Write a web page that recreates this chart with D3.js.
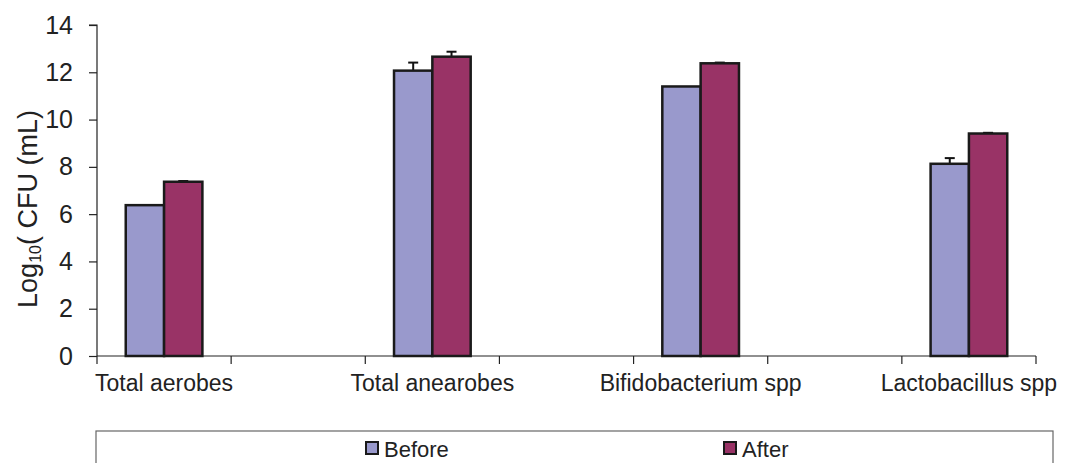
<!DOCTYPE html>
<html>
<head>
<meta charset="utf-8">
<script src="https://cdn.jsdelivr.net/npm/d3@7"></script>
<style>
  html, body { margin: 0; padding: 0; background: #fff; }
  svg { display: block; font-family: "Liberation Sans", Arial, sans-serif; }
</style>
</head>
<body>
<svg id="chart" width="1070" height="463"></svg>
<script>
// ---- data ----
const slots = ["Total aerobes", "", "Total anearobes", "", "Bifidobacterium spp", "", "Lactobacillus spp"];
const seriesNames = ["Before", "After"];
const beforeValues = [6.38, null, 12.07, null, 11.40, null, 8.13];
const afterValues  = [7.37, null, 12.66, null, 12.38, null, 9.41];
const beforeErrors = [0.0, null, 0.34, null, 0.0, null, 0.24];
const afterErrors  = [0.03, null, 0.21, null, 0.03, null, 0.03];
const yTicks = [0, 2, 4, 6, 8, 10, 12, 14];
const colors = ["#9999cc", "#993366"];

// ---- layout ----
const svg = d3.select("#chart");
const pLeft = 97, pRight = 1036, pTop = 25, pBottom = 356;

const x = d3.scaleBand().domain(d3.range(slots.length)).range([pLeft, pRight]).paddingInner(0).paddingOuter(0);
const inner = d3.scaleBand().domain([0, 1]).range([0, x.bandwidth()]).paddingOuter(0.75).paddingInner(0);
const y = d3.scaleLinear().domain([0, 14]).range([pBottom, pTop]);

// y axis
const yAxis = svg.append("g").attr("transform", `translate(${pLeft},0)`)
  .call(d3.axisLeft(y).tickValues(yTicks).tickSize(8).tickPadding(16).tickFormat(d3.format("d")));
yAxis.select(".domain").attr("stroke", "#222").attr("stroke-width", 1.2).attr("d", `M-8,${pTop}H0V${pBottom}`);
yAxis.selectAll(".tick line").attr("stroke", "#222").attr("stroke-width", 1.2);
yAxis.selectAll(".tick text").attr("font-size", 25).attr("fill", "#222").attr("font-family", "Liberation Sans, Arial, sans-serif");

// x axis (ticks at slot boundaries)
const xAxisG = svg.append("g");
xAxisG.append("line").attr("x1", pLeft).attr("x2", pRight).attr("y1", pBottom).attr("y2", pBottom)
  .attr("stroke", "#222").attr("stroke-width", 1.2);
const boundaries = d3.range(slots.length + 1).map(i => i < slots.length ? x(i) : x(slots.length - 1) + x.bandwidth());
xAxisG.selectAll("line.tk").data(boundaries).join("line").attr("class", "tk")
  .attr("x1", d => d).attr("x2", d => d).attr("y1", pBottom).attr("y2", pBottom + 8)
  .attr("stroke", "#222").attr("stroke-width", 1.2);
xAxisG.selectAll("text").data(slots.map((s, i) => ({ s, i })).filter(d => d.s))
  .join("text")
  .attr("x", d => x(d.i) + x.bandwidth() / 2)
  .attr("y", pBottom + 35)
  .attr("text-anchor", "middle").attr("font-size", 23).attr("fill", "#222")
  .text(d => d.s);

// bars
const series = [beforeValues, afterValues];
const errs = [beforeErrors, afterErrors];
series.forEach((vals, si) => {
  const g = svg.append("g");
  const data = vals.map((v, i) => ({ v, i, e: errs[si][i] })).filter(d => d.v != null);
  g.selectAll("line.eb").data(data.filter(d => d.e > 0)).join("line").attr("class", "eb")
    .attr("x1", d => x(d.i) + inner(si) + inner.bandwidth() / 2)
    .attr("x2", d => x(d.i) + inner(si) + inner.bandwidth() / 2)
    .attr("y1", d => y(d.v)).attr("y2", d => y(d.v + d.e))
    .attr("stroke", "#111").attr("stroke-width", 2);
  g.selectAll("line.cap").data(data.filter(d => d.e > 0)).join("line").attr("class", "cap")
    .attr("x1", d => x(d.i) + inner(si) + inner.bandwidth() / 2 - 5)
    .attr("x2", d => x(d.i) + inner(si) + inner.bandwidth() / 2 + 5)
    .attr("y1", d => y(d.v + d.e)).attr("y2", d => y(d.v + d.e))
    .attr("stroke", "#111").attr("stroke-width", 2);
  g.selectAll("rect").data(data).join("rect")
    .attr("x", d => x(d.i) + inner(si))
    .attr("width", inner.bandwidth())
    .attr("y", d => y(d.v))
    .attr("height", d => y(0) - y(d.v))
    .attr("fill", colors[si]).attr("stroke", "#1a1a1a").attr("stroke-width", 2.5);
});

// y label
const yl = svg.append("text")
  .attr("transform", `translate(37,209) rotate(-90)`)
  .attr("text-anchor", "middle").attr("font-size", 27).attr("fill", "#222");
yl.append("tspan").text("Log");
yl.append("tspan").attr("font-size", 16).attr("dy", 4).text("10");
yl.append("tspan").attr("dy", -4).text("( CFU (mL)");

// legend
const lg = svg.append("g");
lg.append("rect").attr("x", 96).attr("y", 431).attr("width", 957).attr("height", 60)
  .attr("fill", "none").attr("stroke", "#666").attr("stroke-width", 1.2);
const legendX = [366, 724];
seriesNames.forEach((name, i) => {
  lg.append("rect").attr("x", legendX[i]).attr("y", 442).attr("width", 12).attr("height", 12)
    .attr("fill", colors[i]).attr("stroke", "#1a1a1a").attr("stroke-width", 2);
  lg.append("text").attr("x", legendX[i] + 18).attr("y", 457).attr("font-size", 22).attr("fill", "#222").text(name);
});
</script>
</body>
</html>
